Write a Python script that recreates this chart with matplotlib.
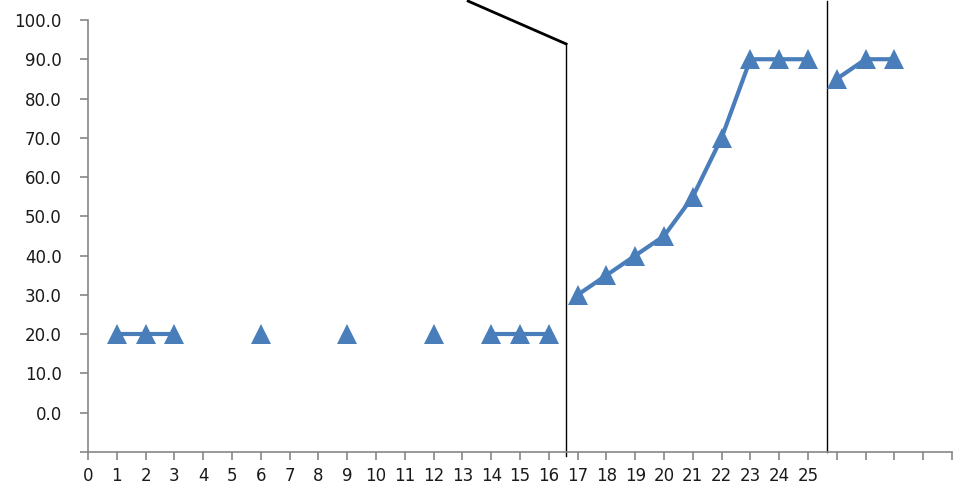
import numpy as np
import matplotlib
matplotlib.use("Agg")
import matplotlib.pyplot as plt

plt.rcParams['font.family'] = ['DejaVu Sans']

# data points, grouped into connected runs
xs = [1, 2, 3, 6, 9, 12, 14, 15, 16, 17, 18, 19, 20, 21, 22, 23, 24, 25, 26, 27, 28]
ys = [20, 20, 20, 20, 20, 20, 20, 20, 20, 30, 35, 40, 45, 55, 70, 90, 90, 90, 85, 90, 90]
runs = [0, 0, 0, 1, 2, 3, 4, 4, 4, 5, 5, 5, 5, 5, 5, 5, 5, 5, 6, 6, 6]

xticks = list(range(0, 31))
xlabels = [str(i) if i <= 25 else '' for i in xticks]
yticks = list(range(-10, 101, 10))
ylabels = ['' if v < 0 else f'{v:.1f}' for v in yticks]

# hand-drawn marker lines
div1_x, div1_top, div1_bot = 16.6, 93.9, -10.9
diag_x, diag_y = 13.2, 104.8
div2_x = 25.67

blue = '#4a7ebb'
fig = plt.figure(figsize=(9.59, 4.87), dpi=100)
ax = fig.add_axes([0.0918, 0.0719, 0.9009, 0.8871])

xs = np.array(xs); ys = np.array(ys); runs = np.array(runs)
for r in np.unique(runs):
    m = runs == r
    ax.plot(xs[m], ys[m], color=blue, lw=3, marker='^', ms=14,
            markeredgewidth=0, clip_on=False, zorder=3)

ax.set_xlim(0, 30)
ax.set_ylim(-10, 100)
ax.set_xticks(xticks)
ax.set_xticklabels(xlabels)
ax.set_yticks(yticks)
ax.set_yticklabels(ylabels)

for s in ['top', 'right']:
    ax.spines[s].set_visible(False)
for s in ['left', 'bottom']:
    ax.spines[s].set_color('#868686')
    ax.spines[s].set_linewidth(1.2)
ax.tick_params(axis='both', colors='#868686', length=6, width=1.2,
               labelcolor='#1a1a1a', labelsize=12)
ax.tick_params(axis='x', pad=5)
ax.tick_params(axis='y', pad=13)

ax.plot([div1_x, div1_x], [div1_bot, div1_top], color='black', lw=1, clip_on=False)
ax.plot([diag_x, div1_x], [diag_y, div1_top], color='black', lw=2, clip_on=False)
ax.plot([div2_x, div2_x], [-10, diag_y], color='black', lw=1, clip_on=False)

fig.savefig('out.png', dpi=100)
